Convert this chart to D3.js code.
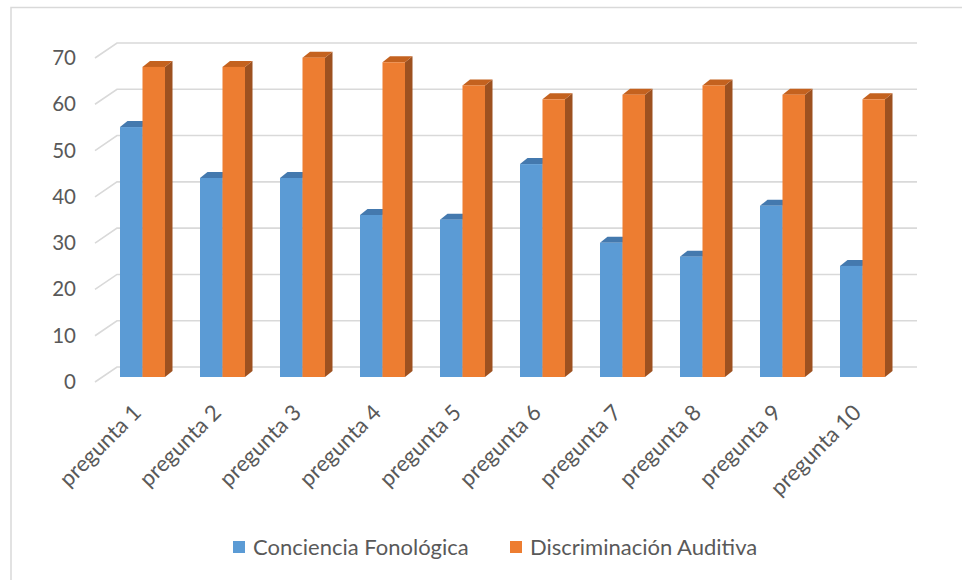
<!DOCTYPE html>
<html>
<head>
<meta charset="utf-8">
<script src="https://cdn.jsdelivr.net/npm/d3@7"></script>
<style>
  html, body { margin: 0; padding: 0; background: #fff; }
  svg { display: block; }
  text { font-family: Lato, "Open Sans", sans-serif; fill: #595959; }
</style>
</head>
<body>
<svg id="chart" width="962" height="580"></svg>
<script>
const categories = ["pregunta 1","pregunta 2","pregunta 3","pregunta 4","pregunta 5","pregunta 6","pregunta 7","pregunta 8","pregunta 9","pregunta 10"];
const seriesNames = ["Conciencia Fonológica","Discriminación Auditiva"];
const concienciaFonologica = [54, 43, 43, 35, 34, 46, 29, 26, 37, 24];
const discriminacionAuditiva = [67, 67, 69, 68, 63, 60, 61, 63, 61, 60];
const yTicks = [0, 10, 20, 30, 40, 50, 60, 70];

const seriesValues = [concienciaFonologica, discriminacionAuditiva];
const colors = [
  { front: "#5B9BD5", top: "#4479AE", side: "#3C6A96" },
  { front: "#ED7D31", top: "#C4621F", side: "#9D5120" }
];

const svg = d3.select("#chart");

// frame
svg.append("path")
  .attr("d", "M11,580 V7.5 H962")
  .attr("fill", "none").attr("stroke", "#d9d9d9").attr("stroke-width", 1.5);

const x = d3.scaleBand().domain(categories).range([102.5, 902.5])
  .paddingInner(0.4375).paddingOuter(0.21875);
const xs = d3.scaleBand().domain(d3.range(seriesNames.length)).range([0, x.bandwidth()]);
const y = d3.scaleLinear().domain([0, 70]).range([377, 53]);

const depthX = 7.5, depthY = -6;

// gridlines (back wall + side wall diagonal)
const grid = svg.append("g");
yTicks.forEach(t => {
  const yy = y(t);
  grid.append("path")
    .attr("d", `M95,${yy + 5} L117,${yy - 10} H917`)
    .attr("fill", "none").attr("stroke", "#d9d9d9").attr("stroke-width", 1.6);
});

// y axis labels
const yAxis = d3.axisLeft(y).tickValues(yTicks).tickSize(0).tickPadding(0);
const yg = svg.append("g").attr("transform", "translate(76,5)").call(yAxis);
yg.select(".domain").remove();
yg.selectAll("text").style("font-size", "20.5px").attr("fill", "#595959")
  .style("font-family", "Lato, 'Open Sans', sans-serif");

// bars
const bars = svg.append("g");
categories.forEach((c, i) => {
  seriesValues.forEach((vals, s) => {
    const v = vals[i];
    const x0 = x(c) + xs(s), w = xs.bandwidth();
    const yt = y(v), yb = y(0);
    const g = bars.append("g");
    g.append("path")
      .attr("d", `M${x0 + w},${yt} L${x0 + w + depthX},${yt + depthY} L${x0 + w + depthX},${yb + depthY} L${x0 + w},${yb} Z`)
      .attr("fill", colors[s].side);
    g.append("path")
      .attr("d", `M${x0},${yt} L${x0 + depthX},${yt + depthY} L${x0 + w + depthX},${yt + depthY} L${x0 + w},${yt} Z`)
      .attr("fill", colors[s].top);
    g.append("rect")
      .attr("x", x0).attr("y", yt).attr("width", w).attr("height", yb - yt)
      .attr("fill", colors[s].front);
  });
});

// category labels
const xl = svg.append("g");
categories.forEach(c => {
  const cx = x(c) + x.bandwidth() / 2;
  xl.append("text")
    .attr("transform", `translate(${cx},${414}) rotate(-45)`)
    .attr("text-anchor", "end")
    .style("font-size", "22px")
    .text(c);
});

// legend
const legendItems = [
  { name: seriesNames[0], color: colors[0].front, x: 233, tx: 253 },
  { name: seriesNames[1], color: colors[1].front, x: 510, tx: 530 }
];
const lg = svg.append("g");
legendItems.forEach(d => {
  lg.append("rect").attr("x", d.x).attr("y", 541).attr("width", 12).attr("height", 12).attr("fill", d.color);
  lg.append("text").attr("x", d.tx).attr("y", 555).style("font-size", "22px").text(d.name);
});
</script>
</body>
</html>
